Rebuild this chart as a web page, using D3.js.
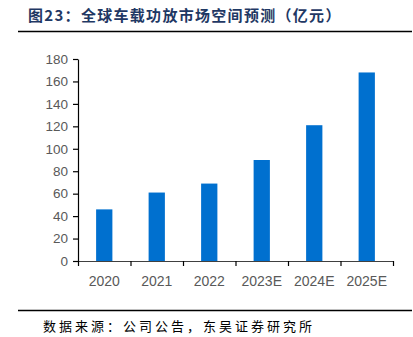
<!DOCTYPE html>
<html>
<head>
<meta charset="utf-8">
<script src="https://cdn.jsdelivr.net/npm/d3@7"></script>
<style>
  body { margin: 0; background: #fff; }
</style>
</head>
<body>
<div id="chart"></div>
<script>
var categories = ["2020", "2021", "2022", "2023E", "2024E", "2025E"];
var values = [46, 61, 69, 90, 121, 168];
var yTicks = [0, 20, 40, 60, 80, 100, 120, 140, 160, 180];
var title = "图23：全球车载功放市场空间预测（亿元）";
var source = "数据来源：公司公告，东吴证券研究所";

var width = 413, height = 337;
var margin = {left: 78, right: 20, top: 59, bottom: 76};

var svg = d3.select("#chart").append("svg")
    .attr("width", width)
    .attr("height", height);

// title and rules
svg.append("text")
    .attr("x", 28).attr("y", 21)
    .attr("font-family", "Noto Sans CJK SC")
    .attr("font-weight", "bold")
    .attr("font-size", 15)
    .attr("letter-spacing", 1.3)
    .attr("fill", "#1f3864")
    .text(title);

svg.append("line")
    .attr("x1", 18).attr("x2", 412).attr("y1", 31.5).attr("y2", 31.5)
    .attr("stroke", "#000").attr("stroke-width", 1.5);

svg.append("line")
    .attr("x1", 18).attr("x2", 412).attr("y1", 310.5).attr("y2", 310.5)
    .attr("stroke", "#000").attr("stroke-width", 1.5);

svg.append("text")
    .attr("x", 43).attr("y", 331)
    .attr("font-family", "Noto Sans CJK SC")
    .attr("font-size", 13)
    .attr("letter-spacing", 3)
    .attr("fill", "#000")
    .text(source);

var x = d3.scaleBand()
    .domain(categories)
    .range([margin.left, width - margin.right])
    .paddingInner(0.69)
    .paddingOuter(0.345);

var y = d3.scaleLinear()
    .domain([0, 180])
    .range([height - margin.bottom, margin.top]);

svg.selectAll("rect.bar")
    .data(values)
    .enter().append("rect")
    .attr("class", "bar")
    .attr("x", function(d, i) { return x(categories[i]); })
    .attr("width", x.bandwidth())
    .attr("y", function(d) { return y(d); })
    .attr("height", function(d) { return y(0) - y(d); })
    .attr("fill", "#0070cf");

// y axis
var yAxis = svg.append("g")
    .attr("transform", "translate(" + margin.left + ",0)")
    .call(d3.axisLeft(y).tickValues(yTicks).tickSize(5).tickPadding(5).tickSizeOuter(0));

// x axis with ticks at band edges
var xEdge = d3.scaleLinear().domain([0, categories.length]).range([margin.left, width - margin.right]);
var xAxis = svg.append("g")
    .attr("transform", "translate(0," + y(0) + ")")
    .call(d3.axisBottom(xEdge).ticks(categories.length).tickSize(5).tickFormat("").tickSizeOuter(0));

svg.append("g")
    .selectAll("text")
    .data(categories)
    .enter().append("text")
    .attr("x", function(d) { return x(d) + x.bandwidth() / 2; })
    .attr("y", y(0) + 25)
    .attr("text-anchor", "middle")
    .attr("font-family", "Liberation Sans, Arial")
    .attr("font-size", 14)
    .attr("fill", "#595959")
    .text(function(d) { return d; });

[yAxis, xAxis].forEach(function(g) {
  g.select(".domain").attr("stroke", "#000").attr("stroke-width", 1.2);
  g.selectAll(".tick line").attr("stroke", "#000").attr("stroke-width", 1.2);
});
yAxis.selectAll(".tick text")
    .attr("font-family", "Liberation Sans, Arial")
    .attr("font-size", 13.5)
    .attr("fill", "#595959");
xAxis.select(".domain").attr("stroke", "#404040");
</script>
</body>
</html>
